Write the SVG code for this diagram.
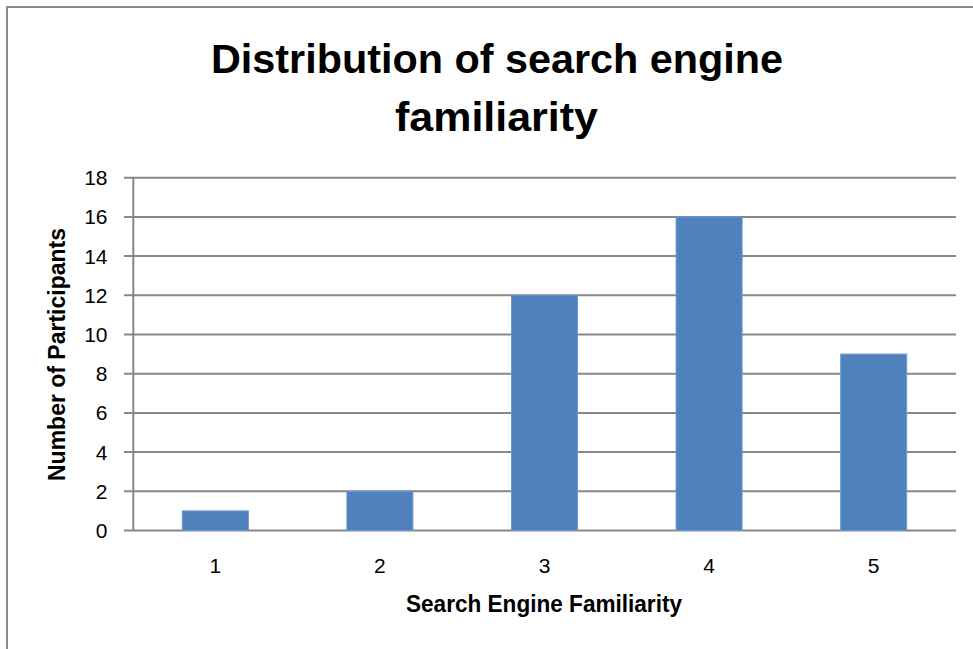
<svg xmlns="http://www.w3.org/2000/svg" width="973" height="649" viewBox="0 0 973 649">
  <style>
    .frame { fill: #ffffff; stroke: #8a8a8a; stroke-width: 2; }
    .grid { stroke: #878787; stroke-width: 2; fill: none; }
    .bar { fill: #4f81bd; stroke: #6e98cb; stroke-width: 1; }
    .title { font-family: "Liberation Sans", Arial, sans-serif; font-weight: bold; font-size: 41px; fill: #000; text-anchor: middle; }
    .tick { font-family: "Liberation Sans", Arial, sans-serif; font-size: 21px; fill: #000; }
    .ytick { text-anchor: end; }
    .xtick { text-anchor: middle; }
    .axis-title { font-family: "Liberation Sans", Arial, sans-serif; font-weight: bold; font-size: 24px; fill: #000; }
  </style>

  <!-- chart area frame (continues past the right and bottom edges) -->
  <rect class="frame" x="7" y="7" width="1000" height="1000"/>

  <!-- chart title -->
  <g id="chart-title">
    <text class="title" x="497" y="73" textLength="572" lengthAdjust="spacingAndGlyphs">Distribution of search engine</text>
    <text class="title" x="496.5" y="131" textLength="203" lengthAdjust="spacingAndGlyphs">familiarity</text>
  </g>

  <!-- gridlines, value axis and its tick marks -->
  <g id="gridlines">
    <path class="grid" d="M124 177.7H956 M124 216.9H956 M124 256.1H956 M124 295.3H956 M124 334.5H956 M124 373.7H956 M124 412.9H956 M124 452.1H956 M124 491.3H956 M124 530.5H956"/>
    <path class="grid" d="M133.3 177.7V530.5"/>
  </g>

  <!-- value axis labels -->
  <g id="y-axis-labels">
    <text class="tick ytick" x="107.5" y="185.2">18</text>
    <text class="tick ytick" x="107.5" y="224.4">16</text>
    <text class="tick ytick" x="107.5" y="263.6">14</text>
    <text class="tick ytick" x="107.5" y="302.8">12</text>
    <text class="tick ytick" x="107.5" y="342">10</text>
    <text class="tick ytick" x="107.5" y="381.2">8</text>
    <text class="tick ytick" x="107.5" y="420.4">6</text>
    <text class="tick ytick" x="107.5" y="459.6">4</text>
    <text class="tick ytick" x="107.5" y="498.8">2</text>
    <text class="tick ytick" x="107.5" y="538">0</text>
  </g>

  <!-- data bars: values 1, 2, 12, 16, 9 -->
  <g id="bars">
    <rect id="bar-1" class="bar" x="182.3" y="510.9" width="66" height="19.6"/>
    <rect id="bar-2" class="bar" x="346.9" y="491.3" width="66" height="39.2"/>
    <rect id="bar-3" class="bar" x="511.5" y="295.3" width="66" height="235.2"/>
    <rect id="bar-4" class="bar" x="676.1" y="216.9" width="66" height="313.6"/>
    <rect id="bar-5" class="bar" x="840.7" y="354.1" width="66" height="176.4"/>
  </g>

  <!-- category axis labels -->
  <g id="x-axis-labels">
    <text class="tick xtick" x="215.3" y="572.7">1</text>
    <text class="tick xtick" x="379.9" y="572.7">2</text>
    <text class="tick xtick" x="544.5" y="572.7">3</text>
    <text class="tick xtick" x="709.1" y="572.7">4</text>
    <text class="tick xtick" x="873.7" y="572.7">5</text>
  </g>

  <!-- axis titles -->
  <g id="x-axis-title">
    <text class="axis-title" x="406" y="611.5" textLength="276" lengthAdjust="spacingAndGlyphs">Search Engine Familiarity</text>
  </g>
  <g id="y-axis-title">
    <text class="axis-title" transform="translate(65 481) rotate(-90)" x="0" y="0" textLength="253" lengthAdjust="spacingAndGlyphs">Number of Participants</text>
  </g>
</svg>
